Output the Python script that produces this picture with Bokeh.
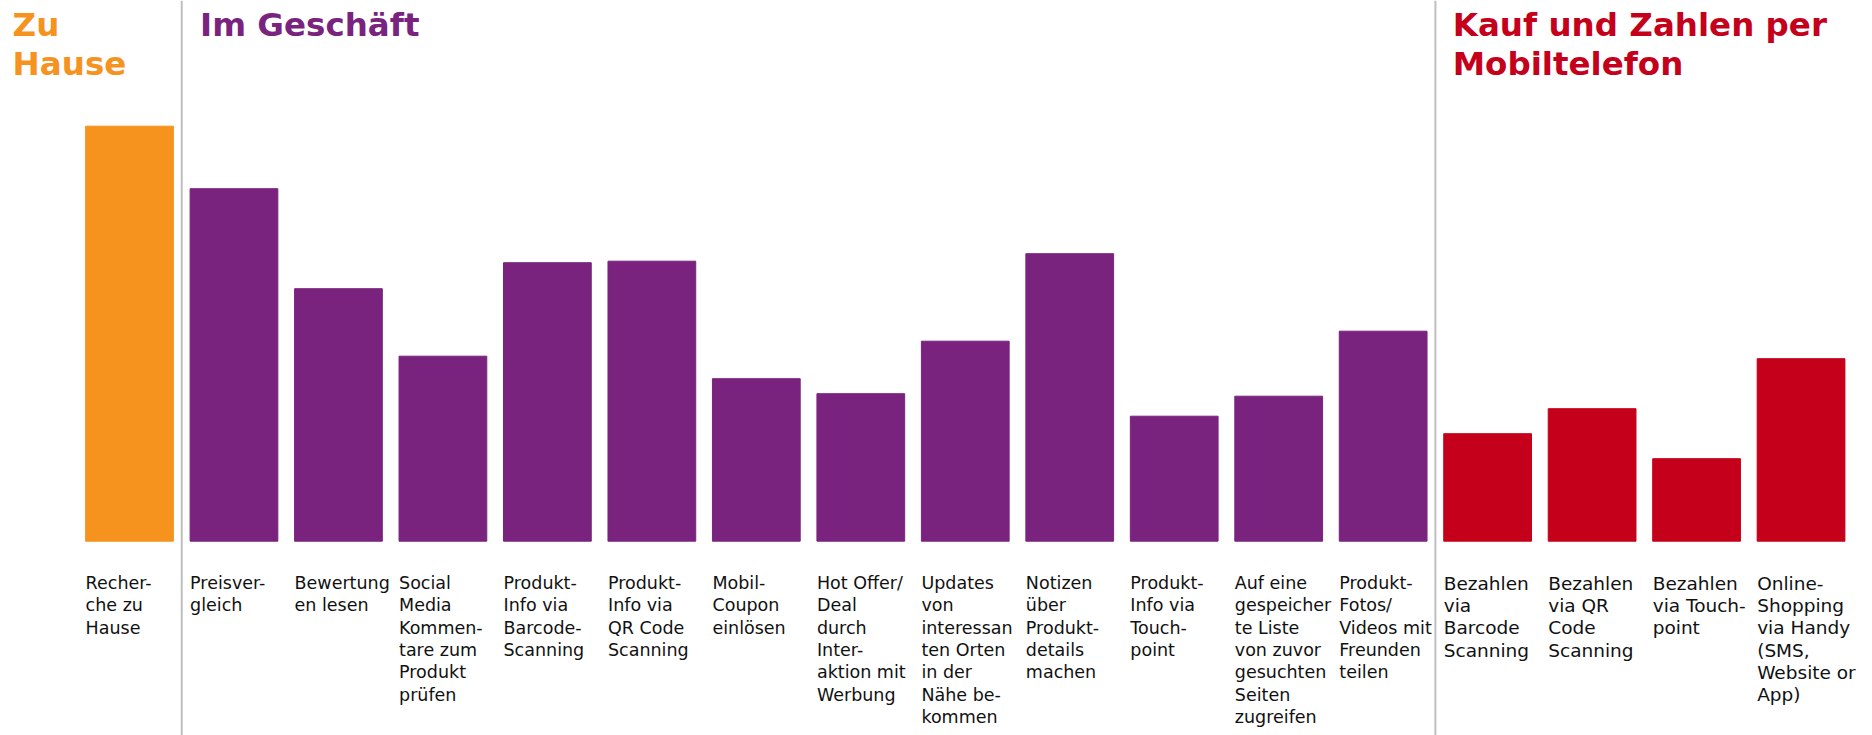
from bokeh.plotting import figure
from bokeh.models import ColumnDataSource, Range1d, Span
from bokeh.transform import dodge
from bokeh.core.properties import value
from bokeh.embed import file_html
from bokeh.resources import INLINE

# ---- data ----
group_titles = ["Zu\nHause", "Im Geschäft", "Kauf und Zahlen per\nMobiltelefon"]
group_sizes = [1, 12, 4]
group_colors = ["#F6921E", "#7A237E", "#C5001A"]

labels = [
    "Recher-\nche zu\nHause",
    "Preisver-\ngleich",
    "Bewertung\nen lesen",
    "Social\nMedia\nKommen-\ntare zum\nProdukt\nprüfen",
    "Produkt-\nInfo via\nBarcode-\nScanning",
    "Produkt-\nInfo via\nQR Code\nScanning",
    "Mobil-\nCoupon\neinlösen",
    "Hot Offer/\nDeal\ndurch\nInter-\naktion mit\nWerbung",
    "Updates\nvon\ninteressan\nten Orten\nin der\nNähe be-\nkommen",
    "Notizen\nüber\nProdukt-\ndetails\nmachen",
    "Produkt-\nInfo via\nTouch-\npoint",
    "Auf eine\ngespeicher\nte Liste\nvon zuvor\ngesuchten\nSeiten\nzugreifen",
    "Produkt-\nFotos/\nVideos mit\nFreunden\nteilen",
    "Bezahlen\nvia\nBarcode\nScanning",
    "Bezahlen\nvia QR\nCode\nScanning",
    "Bezahlen\nvia Touch-\npoint",
    "Online-\nShopping\nvia Handy\n(SMS,\nWebsite or\nApp)",
]
values = [83, 70.5, 50.5, 37, 55.7, 56, 32.5, 29.5, 40, 57.5, 25, 29, 42, 21.5, 26.5, 16.5, 36.5]

# ---- derived ----
group_index = [g for g, n in enumerate(group_sizes) for _ in range(n)]
idx = list(range(len(values)))
colors = [group_colors[g] for g in group_index]

BAR_W = 0.84
src_a = ColumnDataSource(dict(idx=[i for i in idx if group_index[i] < 2],
                              label=[labels[i] for i in idx if group_index[i] < 2]))
src_b = ColumnDataSource(dict(idx=[i for i in idx if group_index[i] == 2],
                              label=[labels[i] for i in idx if group_index[i] == 2]))
bars = ColumnDataSource(dict(idx=idx, val=values, color=colors))

p = figure(width=1872, height=735, output_backend="svg", toolbar_location=None,
           x_range=Range1d(-1.2348, 16.684), y_range=Range1d(-38.86, 108.14),
           x_axis_location=None, y_axis_location=None, min_border=0,
           outline_line_color=None, background_fill_color="white")
p.xgrid.visible = False
p.ygrid.visible = False

p.vbar(x="idx", top="val", bottom=0, width=BAR_W, color="color", source=bars)

# group dividers
starts = [0]
for n in group_sizes[:-1]:
    starts.append(starts[-1] + n)
for s in starts[1:]:
    p.add_layout(Span(location=s - 0.5, dimension="height", line_color="#BFBFBF", line_width=2))

# category labels
p.text(x=dodge("idx", -BAR_W / 2, range=p.x_range), y=0, text="label", source=src_a,
       text_font=value("DejaVu Sans"), text_font_size="17.5px", text_color="#111111",
       text_baseline="top", text_align="left", y_offset=32, text_line_height=1.115)
p.text(x=dodge("idx", -BAR_W / 2, range=p.x_range), y=0, text="label", source=src_b,
       text_font=value("DejaVu Sans"), text_font_size="18.5px", text_color="#111111",
       text_baseline="top", text_align="left", y_offset=32, text_line_height=1.054)

# group titles
title_x_offsets = [-73, 10, 9]
p.text(x=[s - BAR_W / 2 for s in starts], y=[p.y_range.end] * 3, text=group_titles,
       x_offset=title_x_offsets, y_offset=5,
       text_font=value("DejaVu Sans"), text_font_style="bold", text_font_size="32.5px",
       text_color=group_colors, text_baseline="top", text_align="left", text_line_height=1.05)

open("out.html", "w").write(file_html(p, INLINE))
